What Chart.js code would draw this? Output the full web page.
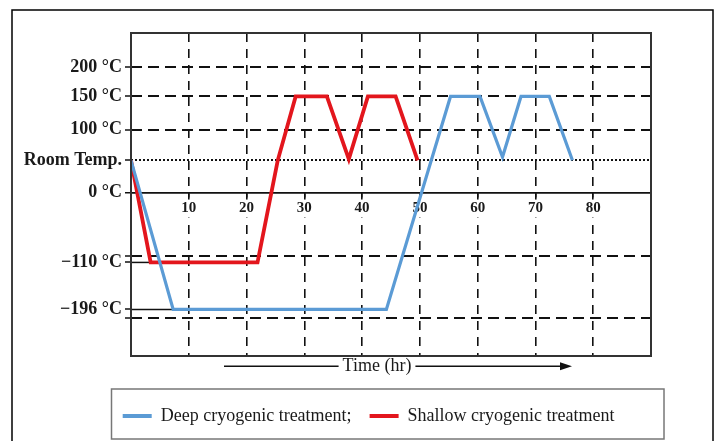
<!DOCTYPE html>
<html>
<head>
<meta charset="utf-8">
<script src="https://cdn.jsdelivr.net/npm/chart.js@4/dist/chart.umd.min.js"></script>
<style>html,body{margin:0;padding:0;background:#fff}canvas{display:block}</style>
</head>
<body>
<canvas id="c" width="718" height="441"></canvas>
<script>
// ---- data ----
const seriesNames = ['Deep cryogenic treatment;', 'Shallow cryogenic treatment'];
const deepTimes = [0, 7.3, 44.2, 55.3, 60.4, 64.3, 67.5, 72.4, 76.4];
const deepTemps = [25, -196, -196, 150, 150, 33, 150, 150, 25];
const shallowTimes = [0, 3.4, 21.9, 25.4, 28.5, 33.9, 37.7, 41.0, 45.8, 49.6];
const shallowTemps = [25, -110, -110, 25, 150, 150, 28, 150, 150, 25];
const xTickValues = [10, 20, 30, 40, 50, 60, 70, 80];
const yTickTemps = [200, 150, 100, 25, 0, -110, -196];
const yTickLabels = ['200 °C', '150 °C', '100 °C', 'Room Temp.', '0 °C', '\u2212110 °C', '\u2212196 °C'];
const yGuideTemps = [-100, -208];       // unlabelled dashed guide lines
const ROOM_TEMP = 25;
// schematic (non-linear) temperature axis: stops and their share of the axis height
const axisStopTemps  = [-260, -196, -110, 0, 25, 100, 150, 200, 260];
const axisStopShares = [0, 0.1441, 0.2897, 0.5060, 0.6058, 0.7003, 0.8035, 0.8950, 1];

const SERIF = '"Liberation Serif", "Times New Roman", serif';

function interp(v, A, B) {
  const n = A.length - 1;
  if (v <= A[0]) return B[0] + (v - A[0]) * (B[1] - B[0]) / (A[1] - A[0]);
  for (let i = 1; i <= n; i++) {
    if (v <= A[i]) return B[i - 1] + (v - A[i - 1]) / (A[i] - A[i - 1]) * (B[i] - B[i - 1]);
  }
  return B[n] + (v - A[n]) * (B[n] - B[n - 1]) / (A[n] - A[n - 1]);
}

class SchematicScale extends Chart.LinearScale {
  static id = 'schematic';
  static defaults = {};
  getPixelForValue(value) {
    if (value === null || value === undefined || isNaN(value)) return NaN;
    return this.getPixelForDecimal(interp(value, axisStopTemps, axisStopShares));
  }
  getValueForPixel(pixel) {
    return interp(this.getDecimalForPixel(pixel), axisStopShares, axisStopTemps);
  }
}
Chart.register(SchematicScale);

const toPoints = (xs, ys) => xs.map((x, i) => ({x: x, y: ys[i]}));

const LEGEND_LEFT = 104.7;

const decor = {
  id: 'decor',
  afterLayout(chart) {
    // indent the legend row inside its framed box
    chart.legend.left = LEGEND_LEFT;
    // centre the time title slightly left of the plot centre, as in the figure
    chart.scales.x2.right -= 28;
  },
  beforeDraw(chart) {
    const {ctx, width, height} = chart;
    ctx.save();
    ctx.fillStyle = '#fff';
    ctx.fillRect(0, 0, width, height);
    ctx.strokeStyle = '#000';
    ctx.lineWidth = 1.5;
    ctx.strokeRect(12, 10, 701, 445);
    ctx.restore();
  },
  beforeDatasetsDraw(chart) {
    // short solid level markers from the axis to where each treatment reaches its hold level
    const {ctx, chartArea} = chart;
    const xs = chart.scales.x, ys = chart.scales.y;
    const marks = [
      [shallowTimes, shallowTemps, -110],
      [deepTimes, deepTemps, -196]
    ];
    ctx.save();
    ctx.strokeStyle = '#111';
    ctx.lineWidth = 1.5;
    marks.forEach(([ts, vs, lvl]) => {
      const i = vs.indexOf(lvl);
      const y = ys.getPixelForValue(lvl);
      ctx.beginPath();
      ctx.moveTo(chartArea.left, y);
      ctx.lineTo(xs.getPixelForValue(ts[i]), y);
      ctx.stroke();
    });
    ctx.restore();
  },
  afterDraw(chart) {
    const {ctx, chartArea} = chart;
    ctx.save();
    // plot frame
    ctx.strokeStyle = '#333';
    ctx.lineWidth = 2;
    ctx.strokeRect(chartArea.left, chartArea.top, chartArea.right - chartArea.left, chartArea.bottom - chartArea.top);
    // arrows around the time title
    const x2 = chart.scales.x2;
    const t = x2.options.title;
    ctx.font = '18px ' + SERIF;
    const w = ctx.measureText(t.text).width;
    const cx = (x2.left + x2.right) / 2;
    const cy = x2.bottom - (18 * 1.2 / 2 + t.padding.bottom);
    ctx.strokeStyle = '#111';
    ctx.fillStyle = '#111';
    ctx.lineWidth = 1.5;
    ctx.beginPath();
    ctx.moveTo(chartArea.left + 93, cy);
    ctx.lineTo(cx - w / 2 - 4, cy);
    ctx.moveTo(cx + w / 2 + 4, cy);
    ctx.lineTo(chartArea.right - 89, cy);
    ctx.stroke();
    ctx.beginPath();
    ctx.moveTo(chartArea.right - 91, cy - 4);
    ctx.lineTo(chartArea.right - 79, cy);
    ctx.lineTo(chartArea.right - 91, cy + 4);
    ctx.closePath();
    ctx.fill();
    // legend box
    const lg = chart.legend;
    ctx.strokeStyle = '#777';
    ctx.lineWidth = 1.5;
    ctx.strokeRect(111.5, lg.top, 552.5, 50);
    ctx.restore();
  }
};

const gridDash = c => {
  if (c.type !== 'tick' || !c.tick) return [];
  const v = c.tick.value;
  if (v === ROOM_TEMP) return [2, 2];
  if (v === 0) return [];
  return [11, 6];
};

new Chart(document.getElementById('c'), {
  type: 'line',
  data: {
    datasets: [
      {label: seriesNames[0], data: toPoints(deepTimes, deepTemps), xAxisID: 'x', yAxisID: 'y',
       borderColor: '#5b9bd5', backgroundColor: '#5b9bd5', borderWidth: 3.2, pointRadius: 0, tension: 0, fill: false},
      {label: seriesNames[1], data: toPoints(shallowTimes, shallowTemps), xAxisID: 'x', yAxisID: 'y',
       borderColor: '#e3161d', backgroundColor: '#e3161d', borderWidth: 3.8, pointRadius: 0, tension: 0, fill: false}
    ]
  },
  options: {
    responsive: false,
    animation: false,
    devicePixelRatio: 1,
    layout: {padding: {left: 0, right: 67, top: 33, bottom: 6}},
    plugins: {
      tooltip: {enabled: false},
      legend: {
        position: 'bottom',
        align: 'start',
        labels: {
          boxWidth: 29, boxHeight: 4, padding: 18, color: '#1a1a1a',
          font: {family: SERIF, size: 18},
          generateLabels(chart) {
            const items = Chart.defaults.plugins.legend.labels.generateLabels(chart);
            items.forEach(it => { it.lineWidth = 0; it.fillStyle = it.strokeStyle; });
            return items;
          }
        }
      }
    },
    scales: {
      x: {
        type: 'linear', min: 0, max: 90, position: {y: 0},
        ticks: {
          stepSize: 10, autoSkip: false, maxRotation: 0,
          callback: v => xTickValues.includes(v) ? String(v) : '',
          font: {family: SERIF, size: 15, weight: 'bold'}, color: '#1a1a1a', padding: 3,
          showLabelBackdrop: true, backdropColor: '#fff', backdropPadding: {x: 1, y: 0}
        },
        grid: {
          color: c => (c.tick && xTickValues.includes(c.tick.value)) ? '#111' : 'rgba(0,0,0,0)',
          lineWidth: 1.6, tickColor: '#111', tickWidth: 1.5, tickLength: 4
        },
        border: {display: true, color: '#111', width: 1.5, dash: c => (c.type === 'tick') ? [9, 7] : []}
      },
      x2: {
        type: 'linear', min: 0, max: 90, position: 'bottom',
        grid: {display: false, drawTicks: false},
        border: {display: false},
        ticks: {display: false},
        title: {display: true, text: 'Time (hr)', font: {family: SERIF, size: 18}, color: '#1a1a1a', padding: {top: 0, bottom: 12}},
        afterFit: s => { s.height = 33; }
      },
      y: {
        type: 'schematic', min: -260, max: 260, position: 'left',
        afterFit: s => { s.width = 131; },
        afterBuildTicks: s => {
          s.ticks = yTickTemps.concat(yGuideTemps).sort((a, b) => a - b).map(v => ({value: v}));
        },
        ticks: {
          autoSkip: false,
          callback: v => { const i = yTickTemps.indexOf(v); return i < 0 ? '' : yTickLabels[i]; },
          font: {family: SERIF, size: 18, weight: 'bold'}, color: '#1a1a1a', padding: 3
        },
        grid: {
          color: c => (c.tick && (c.tick.value === -110 || c.tick.value === -196)) ? 'rgba(0,0,0,0)' : '#111',
          lineWidth: c => (c.tick && c.tick.value === 0) ? 1.5 : 2,
          tickColor: '#111', tickWidth: 1.5, tickLength: 6
        },
        border: {display: false, dash: gridDash}
      }
    }
  },
  plugins: [decor]
});
</script>
</body>
</html>
